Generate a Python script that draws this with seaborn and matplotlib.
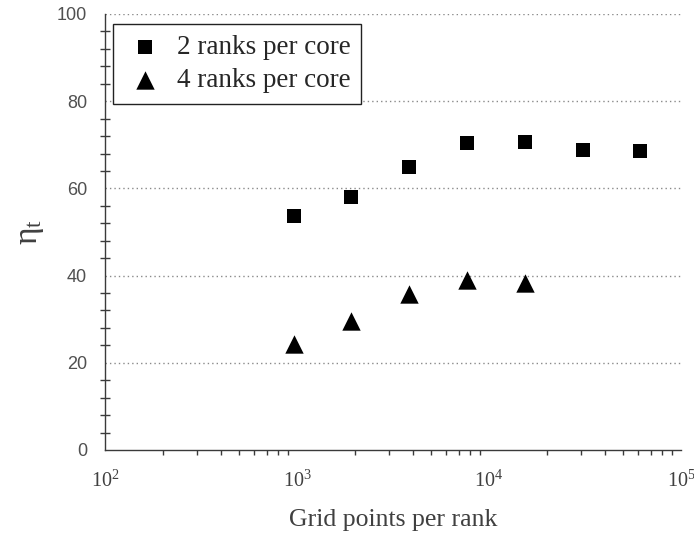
import matplotlib
matplotlib.use("Agg")
import matplotlib.pyplot as plt
from matplotlib.ticker import LogLocator, MultipleLocator, LogFormatterSciNotation
import pandas as pd
import seaborn as sns

# Grid points per rank and measured efficiency
grid_points_2 = [960, 1920, 3840, 7680, 15360, 30720, 61440]
eta_2 = [53.7, 58.0, 64.8, 70.4, 70.7, 68.8, 68.5]
grid_points_4 = [960, 1920, 3840, 7680, 15360]
eta_4 = [24.2, 29.5, 35.7, 38.9, 38.2]
series_labels = ["2 ranks per core", "4 ranks per core"]
y_ticks = [0, 20, 40, 60, 80, 100]

df2 = pd.DataFrame({"points": grid_points_2, "eta": eta_2})
df4 = pd.DataFrame({"points": grid_points_4, "eta": eta_4})

sns.set_theme(style="white")
plt.rcParams["font.family"] = ["Liberation Serif", "DejaVu Serif"]
plt.rcParams["mathtext.fontset"] = "custom"
plt.rcParams["mathtext.rm"] = "Liberation Serif"
plt.rcParams["mathtext.it"] = "Liberation Serif:italic"

fig = plt.figure(figsize=(6.94, 5.38), dpi=100)
ax = fig.add_axes([105 / 694, 1 - 450 / 538, 576 / 694, 436 / 538])

sns.scatterplot(data=df2, x="points", y="eta", marker="s", s=112, color="black",
                linewidth=0, label=series_labels[0], ax=ax, zorder=3)
sns.scatterplot(data=df4, x="points", y="eta", marker="^", s=175, color="black",
                linewidth=0, label=series_labels[1], ax=ax, zorder=3)

ax.set_xscale("log")
ax.set_xlim(1e2, 1e5)
ax.set_ylim(0, 100)
ax.set_yticks(y_ticks)
ax.yaxis.set_minor_locator(MultipleLocator(4))
ax.xaxis.set_major_locator(LogLocator(base=10, numticks=10))
ax.xaxis.set_minor_locator(LogLocator(base=10, subs=range(2, 10), numticks=20))
ax.xaxis.set_major_formatter(LogFormatterSciNotation())

# dotted horizontal guides
for yv in y_ticks[1:]:
    ax.axhline(yv, color="#8a8a8a", lw=1.0, ls=(0, (1, 2.2)), zorder=1)

for side in ["top", "right"]:
    ax.spines[side].set_visible(False)
for side in ["left", "bottom"]:
    ax.spines[side].set_color("#3a3a3a")
    ax.spines[side].set_linewidth(1.0)

ax.tick_params(axis="y", which="major", direction="out", length=9, width=1,
               color="#3a3a3a", pad=4, labelsize=13, labelcolor="#505050")
ax.tick_params(axis="y", which="minor", direction="inout", length=7, width=1,
               color="#3a3a3a", left=True)
ax.tick_params(axis="x", which="major", direction="out", length=9, width=1,
               color="#3a3a3a", pad=6, labelsize=14.5, labelcolor="#404040")
ax.tick_params(axis="x", which="minor", direction="out", length=3.5, width=1,
               color="#3a3a3a", bottom=True)
for lab in ax.get_yticklabels():
    lab.set_fontfamily(["Liberation Sans", "DejaVu Sans"])

ax.set_xlabel("Grid points per rank", fontsize=18.5, color="#404040", labelpad=12)
ax.set_ylabel(r"$\mathrm{\eta}_{\mathrm{t}}$", fontsize=24, color="#404040",
              labelpad=8)

leg = ax.legend(loc="upper left", bbox_to_anchor=(8 / 576, 426 / 436),
                fontsize=19.5, frameon=True, fancybox=False, borderpad=0.4,
                handletextpad=0.35, labelspacing=0.3, handlelength=1.6,
                borderaxespad=0)
leg.get_frame().set_edgecolor("#222222")
leg.get_frame().set_linewidth(1.0)
leg.get_frame().set_alpha(1)

fig.savefig("out.png", dpi=100)
